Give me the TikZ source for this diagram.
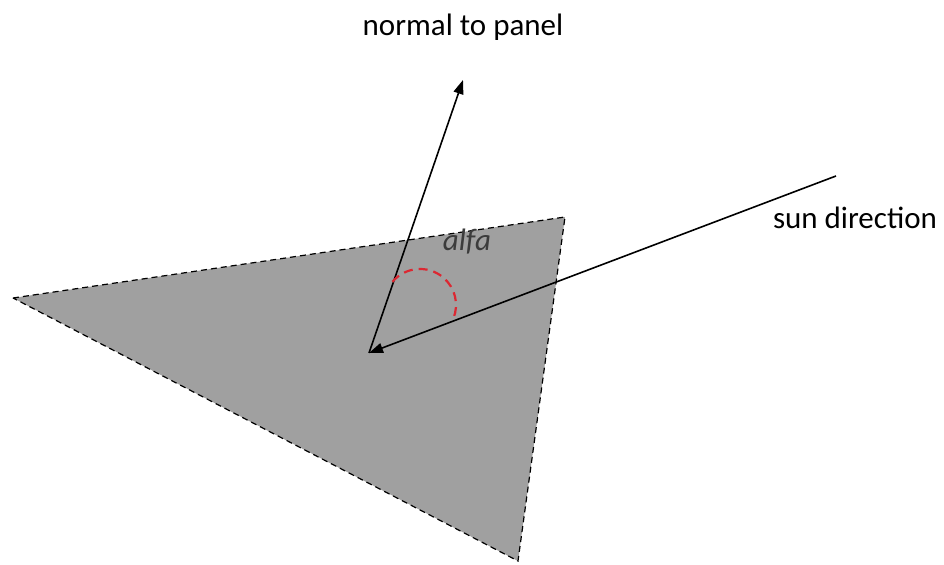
\documentclass[tikz,border=0pt]{standalone}
\usepackage{fontspec}
\setmainfont{Carlito}
\usetikzlibrary{arrows.meta}
\definecolor{panelGray}{RGB}{160,160,160}
\definecolor{angleRed}{RGB}{220,40,50}
\definecolor{labelGray}{RGB}{60,60,60}
\tikzset{
  panel/.style={fill=panelGray, draw=black, line width=0.6pt, dash pattern=on 3pt off 2pt},
  vec/.style={-{Triangle[length=7pt,width=5pt]}, line width=0.8pt},
  anglearc/.style={draw=angleRed, line width=1.1pt, dash pattern=on 4.5pt off 3pt},
  label/.style={font=\fontsize{15.5}{18}\selectfont, inner sep=0pt}
}

\begin{document}
\begin{tikzpicture}[x=0.5pt,y=0.5pt]
  \useasboundingbox (0,0) rectangle (944,565);
  \coordinate (left) at (13,267);
  \coordinate (top) at (565,348);
  \coordinate (bottom) at (518,4);
  \coordinate (origin) at (369,212);
  \coordinate (normal) at (463,485);
  \coordinate (sun) at (836,389);

  \filldraw[panel] (left) -- (top) -- (bottom) -- cycle;

  \draw[vec] (origin) -- (normal);
  \draw[vec] (sun) -- (origin);
  \draw[anglearc] (420,260) ++(140:36) arc[start angle=140, end angle=-22, radius=36];

  \node[label] (normallbl) at (463,538) {normal to panel};
  \node[label] (sunlbl) at (855,347) {sun direction};
  \node[label, text=labelGray, font=\fontsize{15.5}{18}\selectfont\itshape] (alfalbl) at (467,323) {alfa};
\end{tikzpicture}
\end{document}
